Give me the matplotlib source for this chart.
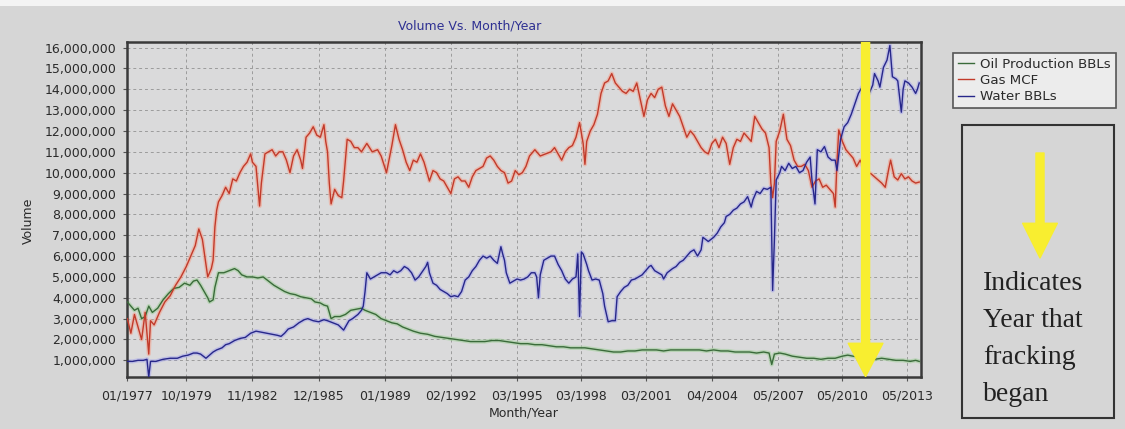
import matplotlib
matplotlib.use('Agg')
import matplotlib.pyplot as plt
from matplotlib.patches import Rectangle, FancyArrowPatch
from matplotlib.ticker import FuncFormatter, MultipleLocator

# ---------------- data (x = months since 01/1977, values in millions) ----------------
tick_months = [0, 33, 70, 107, 144, 181, 218, 254, 290, 327, 364, 400, 436]
tick_labels = ['01/1977', '10/1979', '11/1982', '12/1985', '01/1989', '02/1992', '03/1995',
               '03/1998', '03/2001', '04/2004', '05/2007', '05/2010', '05/2013']

oil_month = [0, 2, 4, 6, 8, 10, 12, 14, 17, 20, 23, 26, 29, 32, 35, 37, 39, 41, 43, 45, 46, 48, 49,
             51, 54, 57, 60, 62, 64, 67, 70, 73, 76, 79, 82, 85, 88, 91, 94, 97, 100, 103, 105, 108,
             110, 112, 114, 116, 119, 122, 125, 128, 131, 133, 136, 139, 142, 145, 148, 151, 154,
             157, 160, 164, 168, 172, 176, 180, 184, 188, 192, 196, 200, 204, 208, 212, 216, 220,
             224, 228, 232, 236, 240, 244, 248, 252, 256, 260, 264, 268, 272, 276, 280, 284, 288,
             292, 296, 300, 304, 308, 312, 316, 320, 324, 328, 332, 336, 340, 344, 348, 352, 356,
             359, 360.5, 362, 365, 368, 372, 376, 380, 384, 388, 392, 396, 400, 403, 406, 410, 414,
             418, 422, 426, 430, 434, 438, 441, 443]
oil_bbls = [3.8, 3.6, 3.4, 3.5, 3.0, 3.1, 3.6, 3.3, 3.5, 3.9, 4.2, 4.45, 4.5, 4.7, 4.6, 4.8, 4.85,
            4.6, 4.3, 4.0, 3.8, 3.9, 4.5, 5.2, 5.2, 5.3, 5.4, 5.3, 5.1, 5.0, 5.0, 4.95, 5.0, 4.8, 4.6,
            4.45, 4.3, 4.2, 4.15, 4.05, 4.0, 3.95, 3.8, 3.75, 3.65, 3.6, 3.0, 3.1, 3.1, 3.2, 3.4,
            3.45, 3.5, 3.4, 3.3, 3.2, 3.0, 2.9, 2.8, 2.75, 2.6, 2.5, 2.4, 2.3, 2.25, 2.15, 2.1, 2.05,
            2.0, 1.95, 1.9, 1.9, 1.9, 1.95, 1.95, 1.9, 1.85, 1.8, 1.8, 1.75, 1.75, 1.7, 1.65, 1.65,
            1.6, 1.6, 1.6, 1.55, 1.5, 1.45, 1.4, 1.4, 1.45, 1.45, 1.5, 1.5, 1.5, 1.45, 1.5, 1.5, 1.5,
            1.5, 1.5, 1.45, 1.5, 1.45, 1.45, 1.4, 1.4, 1.4, 1.35, 1.4, 1.35, 0.8, 1.3, 1.35, 1.3,
            1.2, 1.15, 1.1, 1.1, 1.05, 1.1, 1.1, 1.2, 1.25, 1.2, 1.15, 1.05, 1.05, 1.1, 1.05, 1.0,
            1.0, 0.95, 1.0, 0.95]

gas_month = [0, 2, 4, 6, 8, 10, 12, 13, 15, 18, 21, 24, 27, 30, 33, 36, 38, 40, 42, 44, 45, 47, 48,
             49, 50, 51, 53, 55, 57, 59, 61, 63, 65, 67, 69, 70, 72, 74, 75, 77, 79, 81, 83, 85, 87,
             89, 91, 93, 95, 97, 98, 100, 102, 104, 106, 108, 110, 111, 112, 113, 114, 116, 118,
             120, 121, 123, 125, 127, 129, 131, 134, 137, 140, 142, 145, 148, 150, 152, 154, 156,
             158, 160, 162, 164, 166, 169, 171, 173, 175, 177, 179, 181, 183, 185, 187, 189, 191,
             193, 195, 197, 199, 201, 203, 205, 207, 209, 211, 213, 215, 217, 219, 221, 223, 225,
             228, 231, 234, 237, 239, 241, 243, 245, 247, 249, 251, 253, 255, 256, 257, 259, 261,
             263, 265, 267, 269, 271, 273, 275, 277, 279, 281, 283, 285, 287, 289, 291, 293, 295,
             297, 299, 301, 303, 305, 307, 309, 311, 313, 315, 317, 319, 321, 323, 325, 327, 329,
             331, 333, 335, 337, 339, 341, 343, 345, 347, 349, 351, 353, 355, 357, 359, 360, 361,
             362, 363, 365, 367, 369, 371, 373, 375, 377, 379, 381, 383, 385, 387, 389, 391, 393,
             395, 396, 397, 398, 400, 402, 404, 406, 408, 410, 412, 414, 416, 418, 420, 422, 424,
             426, 427, 429, 431, 433, 435, 437, 439, 441, 443]
gas_mcf = [3.0, 2.3, 3.2, 2.6, 2.0, 3.3, 1.3, 2.9, 2.7, 3.3, 3.8, 4.1, 4.6, 5.0, 5.5, 6.1, 6.5, 7.3,
           6.8, 5.6, 5.0, 5.4, 5.8, 7.4, 8.2, 8.6, 8.9, 9.3, 9.0, 9.7, 9.6, 10.0, 10.3, 10.5, 10.9,
           10.5, 10.3, 8.4, 9.5, 10.9, 11.0, 11.1, 10.8, 11.0, 11.0, 10.6, 10.0, 10.8, 11.1, 10.6,
           10.2, 11.7, 11.9, 12.2, 11.8, 11.7, 12.3, 11.5, 11.0, 9.5, 8.5, 9.2, 8.9, 8.8, 9.6, 11.6,
           11.5, 11.2, 11.2, 11.0, 11.4, 11.0, 11.1, 10.8, 10.0, 11.3, 12.3, 11.6, 11.1, 10.5, 10.1,
           10.6, 10.5, 10.9, 10.5, 9.6, 10.1, 10.0, 9.7, 9.6, 9.3, 9.0, 9.7, 9.8, 9.6, 9.6, 9.3, 9.8,
           10.1, 10.2, 10.3, 10.7, 10.8, 10.6, 10.3, 10.1, 10.0, 9.5, 9.6, 10.1, 9.9, 10.0, 10.3,
           10.8, 11.1, 10.8, 10.9, 11.0, 11.2, 10.9, 10.6, 11.0, 11.2, 11.3, 11.7, 12.4, 11.4, 10.4,
           11.5, 12.0, 12.3, 12.8, 13.8, 14.3, 14.4, 14.75, 14.3, 14.1, 13.9, 13.8, 14.0, 13.9, 14.3,
           13.5, 12.7, 13.5, 13.8, 13.6, 14.0, 14.1, 13.2, 12.7, 13.3, 13.0, 12.7, 12.2, 11.7, 12.0,
           11.8, 11.5, 11.2, 11.0, 10.9, 11.4, 11.6, 11.2, 11.7, 11.4, 10.4, 11.2, 11.6, 11.5, 11.9,
           11.7, 11.5, 12.7, 12.4, 12.1, 11.9, 11.2, 9.5, 8.8, 9.5, 11.5, 12.0, 12.8, 11.6, 11.3,
           10.6, 10.3, 10.3, 10.4, 10.1, 9.3, 9.6, 9.7, 9.3, 9.4, 9.2, 9.0, 8.35, 10.5, 12.05, 11.5,
           11.1, 10.9, 10.7, 10.3, 10.6, 10.2, 10.0, 9.95, 9.8, 9.65, 9.5, 9.3, 10.2, 10.6, 9.8,
           9.65, 9.95, 9.7, 9.8, 9.6, 9.5, 9.55]

water_month = [0, 3, 6, 9, 11, 12, 13, 16, 20, 24, 28, 31, 34, 37, 39, 41, 44, 46, 48, 50, 53, 55,
               57, 60, 63, 66, 69, 72, 75, 78, 81, 84, 86, 88, 90, 93, 96, 99, 101, 104, 107, 110,
               112, 115, 118, 121, 124, 126, 129, 131, 132, 133, 134, 136, 138, 140, 142, 145, 147,
               149, 151, 153, 155, 157, 159, 161, 163, 165, 167, 168, 169, 171, 173, 175, 177, 179,
               181, 183, 185, 187, 189, 191, 193, 195, 197, 199, 201, 203, 205, 207, 209, 210, 211,
               212, 214, 216, 218, 220, 222, 224, 226, 228, 229, 230, 231, 233, 235, 237, 239, 241,
               243, 245, 247, 249, 251, 252, 253, 254, 255, 257, 258, 260, 262, 264, 266, 267, 269,
               271, 273, 274, 276, 278, 280, 282, 284, 286, 288, 290, 292, 293, 295, 297, 299, 300,
               302, 305, 307, 309, 311, 313, 315, 317, 319, 321, 322, 325, 328, 330, 332, 334, 335,
               337, 339, 341, 343, 345, 347, 349, 350, 352, 354, 356, 358, 360, 361, 362, 363, 365,
               366, 368, 370, 372, 374, 376, 378, 380, 382, 383, 384.7, 386, 388, 390, 392, 394, 396,
               397, 399, 401, 403, 405, 407, 409, 411, 413, 415, 417, 418, 420, 421, 423, 425, 426.6,
               428, 430, 431, 433, 434, 435, 437, 439, 441, 442, 443]
water_bbls = [0.95, 0.95, 1.0, 1.0, 1.05, 0.2, 0.95, 0.95, 1.05, 1.1, 1.1, 1.2, 1.25, 1.35, 1.35,
              1.3, 1.1, 1.25, 1.4, 1.5, 1.6, 1.75, 1.8, 1.95, 2.05, 2.1, 2.3, 2.4, 2.35, 2.3, 2.25,
              2.2, 2.15, 2.3, 2.5, 2.6, 2.8, 2.95, 3.0, 2.9, 2.85, 2.95, 2.9, 2.8, 2.7, 2.45, 2.9,
              3.0, 3.2, 3.4, 3.6, 4.3, 5.2, 4.9, 5.0, 5.1, 5.2, 5.2, 5.1, 5.3, 5.2, 5.3, 5.5, 5.4,
              5.2, 4.85, 5.0, 5.25, 5.5, 5.7, 5.2, 4.7, 4.6, 4.4, 4.3, 4.2, 4.05, 4.1, 4.05, 4.3,
              4.85, 5.0, 5.3, 5.5, 5.8, 6.0, 5.9, 6.0, 5.8, 5.65, 6.45, 6.1, 5.8, 5.2, 4.7, 4.8, 4.9,
              4.85, 4.9, 5.0, 5.2, 5.2, 5.0, 4.0, 5.1, 5.8, 5.9, 6.0, 6.0, 5.6, 5.3, 4.9, 4.7, 4.9,
              5.0, 6.1, 3.1, 6.2, 6.1, 5.6, 5.3, 4.85, 4.9, 4.85, 4.2, 3.6, 2.85, 2.9, 2.9, 4.05,
              4.3, 4.5, 4.6, 4.85, 4.9, 5.0, 5.1, 5.3, 5.5, 5.55, 5.3, 5.2, 5.1, 4.9, 5.2, 5.4, 5.5,
              5.7, 5.8, 6.0, 6.2, 6.3, 6.0, 6.3, 6.9, 6.7, 6.9, 7.1, 7.4, 7.6, 7.9, 8.0, 8.2, 8.3,
              8.5, 8.6, 8.85, 8.35, 8.7, 9.1, 9.0, 9.25, 9.2, 9.3, 4.35, 6.8, 9.65, 10.0, 10.3, 10.1,
              10.45, 10.2, 10.3, 10.0, 10.1, 10.5, 10.75, 9.65, 8.5, 11.1, 11.0, 11.25, 10.75, 10.6,
              10.6, 10.1, 11.6, 12.2, 12.4, 12.8, 13.3, 13.8, 14.1, 14.0, 13.8, 14.2, 14.75, 14.4,
              14.1, 15.05, 15.4, 16.1, 14.6, 14.5, 14.4, 12.9, 14.0, 14.4, 14.3, 14.1, 13.8, 14.0,
              14.3]

series_labels = ['Oil Production BBLs', 'Gas MCF', 'Water BBLs']
frack_month = 413
note_lines = ['Indicates', 'Year that', 'fracking', 'began']

# ---------------- figure ----------------
W, H = 1125, 429
fig = plt.figure(figsize=(W / 100, H / 100), dpi=100)
fig.patch.set_facecolor('#d6d6d6')

def fx(px):
    return px / W

def fy(py):
    return 1 - py / H

# light strip at very top
fig.add_artist(Rectangle((0, fy(6)), 1, 6 / H, transform=fig.transFigure,
                         facecolor='#f4f4f4', edgecolor='none', zorder=0))

ax = fig.add_axes([fx(127.3), fy(377.3), fx(921) - fx(127.3), fy(41.7) - fy(377.3)])
ax.set_facecolor('#dadadb')

M = 1e6
def scale(vals):
    return [v * M for v in vals]

styles = [
    (oil_month, oil_bbls, '#3a6b3a', '#9fcf98'),
    (gas_month, gas_mcf, '#c23a2a', '#f3a08c'),
    (water_month, water_bbls, '#27278a', '#a6a6ea'),
]
handles = []
for (mth, vals, core, halo), lab in zip(styles, series_labels):
    ax.plot(mth, scale(vals), color=halo, lw=3.0, alpha=0.55, solid_joinstyle='round', zorder=2)
    h, = ax.plot(mth, scale(vals), color=core, lw=1.0, zorder=3, label=lab)
    handles.append(h)

ax.set_xlim(0, 444)
ax.set_ylim(0.187 * M, 16.28 * M)
ax.set_xticks(tick_months)
ax.set_xticklabels(tick_labels)
ax.yaxis.set_major_locator(MultipleLocator(1 * M))
ax.yaxis.set_major_formatter(FuncFormatter(lambda v, p: f'{v:,.0f}' if v >= 0.5 * M else ''))
ax.tick_params(axis='both', labelsize=9, labelcolor='#2a2a2a', colors='#555555',
               length=3, width=0.8, pad=5)
ax.tick_params(axis='x', pad=6)

ax.grid(True, color='#9c9c9c', lw=0.7, linestyle=(0, (3, 3)))
ax.set_axisbelow(True)
for s in ax.spines.values():
    s.set_color('#3a3a3a')
    s.set_linewidth(1.8)

ax.set_xlabel('Month/Year', fontsize=9, color='#2a2a2a', labelpad=3)
fig.text(fx(28), fy(221), 'Volume', rotation=90, fontsize=9, color='#2a2a2a',
         ha='center', va='center')
fig.text(fx(470), fy(26), 'Volume Vs. Month/Year', fontsize=9, color='#2e3092',
         ha='center', va='center')

# yellow arrow in plot
yellow = '#f8ee30'
arr = FancyArrowPatch((frack_month, 16.28 * M), (frack_month, 0.22 * M),
                      arrowstyle='simple,head_width=2.5,head_length=2.4,tail_width=0.58',
                      mutation_scale=10, color=yellow, shrinkA=0, shrinkB=0, zorder=5)
ax.add_patch(arr)

# legend
leg = fig.legend(handles=handles, labels=series_labels, loc='upper left',
                 bbox_to_anchor=(fx(953), fy(53)), bbox_transform=fig.transFigure,
                 fontsize=9.6, frameon=True, fancybox=False, handlelength=1.2,
                 handletextpad=0.5, labelspacing=0.25, borderpad=0.35, borderaxespad=0)
leg.get_frame().set_facecolor('#f2f2f2')
leg.get_frame().set_edgecolor('#333333')
leg.get_frame().set_linewidth(1.2)
for t in leg.get_texts():
    t.set_color('#2a2a2a')

# note box
fig.add_artist(Rectangle((fx(962), fy(418)), fx(1114) - fx(962), fy(125) - fy(418),
                         transform=fig.transFigure, facecolor='none', edgecolor='#333333',
                         linewidth=1.5, zorder=4))
fig.add_artist(FancyArrowPatch((fx(1040), fy(153)), (fx(1040), fy(258)),
                               transform=fig.transFigure,
                               arrowstyle='simple,head_width=2.5,head_length=2.5,tail_width=0.58',
                               mutation_scale=10, color=yellow, shrinkA=0, shrinkB=0, zorder=5))
for i, line in enumerate(note_lines):
    fig.text(fx(983), fy(289.5 + 37.3 * i), line, fontsize=20, family='Liberation Serif',
             color='#222222', ha='left', va='baseline')

fig.savefig('out.png', dpi=100, facecolor=fig.get_facecolor())
